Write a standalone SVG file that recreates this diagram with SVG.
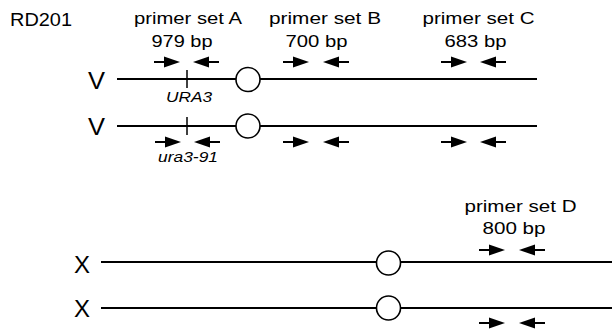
<svg xmlns="http://www.w3.org/2000/svg" xmlns:xlink="http://www.w3.org/1999/xlink" width="612" height="335" viewBox="0 0 612 335">
<style>
  text { font-family: "Liberation Sans", Arial, Helvetica, sans-serif; fill: #000; }
  .lbl { font-size: 17px; text-anchor: middle; }
  .chr { font-size: 24px; }
  .it { font-size: 15px; font-style: italic; text-anchor: middle; }
  .ln { stroke: #000; stroke-width: 1.8; fill: none; }
  .cen { stroke: #000; stroke-width: 1.6; fill: #fff; }
  .tick { stroke: #000; stroke-width: 1.5; }
</style>
<defs>
  <g id="fw"><line x1="0" y1="0" x2="11" y2="0" stroke="#000" stroke-width="2"/><polygon points="10,-5.5 26,0 10,5.5" fill="#000"/></g>
  <g id="rv"><line x1="15" y1="0" x2="26" y2="0" stroke="#000" stroke-width="2"/><polygon points="0,0 16,-5.5 16,5.5" fill="#000"/></g>
</defs>
<rect width="612" height="335" fill="#fff"/>
<text x="10" y="26" style="font-size:18px" textLength="62" lengthAdjust="spacingAndGlyphs">RD201</text>

<g id="labelA">
  <text class="lbl" x="188" y="24" textLength="108" lengthAdjust="spacingAndGlyphs">primer set A</text>
  <text class="lbl" x="182" y="47" textLength="61" lengthAdjust="spacingAndGlyphs">979 bp</text>
</g>
<g id="labelB">
  <text class="lbl" x="325" y="24" textLength="112" lengthAdjust="spacingAndGlyphs">primer set B</text>
  <text class="lbl" x="316.5" y="47" textLength="62" lengthAdjust="spacingAndGlyphs">700 bp</text>
</g>
<g id="labelC">
  <text class="lbl" x="478.5" y="24" textLength="112" lengthAdjust="spacingAndGlyphs">primer set C</text>
  <text class="lbl" x="475.5" y="47" textLength="62" lengthAdjust="spacingAndGlyphs">683 bp</text>
</g>
<g id="labelD">
  <text class="lbl" x="520.5" y="212" textLength="112" lengthAdjust="spacingAndGlyphs">primer set D</text>
  <text class="lbl" x="514" y="234" textLength="63" lengthAdjust="spacingAndGlyphs">800 bp</text>
</g>

<g id="chrV1">
  <text class="chr" x="88" y="89" textLength="17" lengthAdjust="spacingAndGlyphs">V</text>
  <line class="ln" x1="117" y1="79" x2="236" y2="79"/>
  <line class="ln" x1="260" y1="79" x2="537" y2="79"/>
  <circle class="cen" cx="248" cy="79.5" r="12"/>
  <line class="tick" x1="187" y1="70" x2="187" y2="88"/>
  <text class="it" x="189" y="102" textLength="46" lengthAdjust="spacingAndGlyphs">URA3</text>
</g>
<g id="chrV2">
  <text class="chr" x="88" y="135" textLength="17" lengthAdjust="spacingAndGlyphs">V</text>
  <line class="ln" x1="117" y1="126" x2="236" y2="126"/>
  <line class="ln" x1="260" y1="126" x2="537" y2="126"/>
  <circle class="cen" cx="248" cy="126" r="12"/>
  <line class="tick" x1="187" y1="117" x2="187" y2="135"/>
  <text class="it" x="188" y="162" textLength="60" lengthAdjust="spacingAndGlyphs">ura3-91</text>
</g>
<g id="chrX1">
  <text class="chr" x="74" y="273" textLength="16" lengthAdjust="spacingAndGlyphs">X</text>
  <line class="ln" x1="101" y1="262" x2="376" y2="262"/>
  <line class="ln" x1="401" y1="262" x2="612" y2="262"/>
  <circle class="cen" cx="388.5" cy="263" r="12"/>
</g>
<g id="chrX2">
  <text class="chr" x="74" y="317" textLength="16" lengthAdjust="spacingAndGlyphs">X</text>
  <line class="ln" x1="101" y1="308" x2="376" y2="308"/>
  <line class="ln" x1="401" y1="308" x2="612" y2="308"/>
  <circle class="cen" cx="388.5" cy="308" r="12"/>
</g>

<g id="primers">
  <use xlink:href="#fw" x="154" y="62"/><use xlink:href="#rv" x="193" y="62"/>
  <use xlink:href="#fw" x="283" y="62"/><use xlink:href="#rv" x="323" y="62"/>
  <use xlink:href="#fw" x="441" y="62"/><use xlink:href="#rv" x="480" y="62"/>
  <use xlink:href="#fw" x="155" y="142"/><use xlink:href="#rv" x="194" y="142"/>
  <use xlink:href="#fw" x="283" y="142"/><use xlink:href="#rv" x="323" y="142"/>
  <use xlink:href="#fw" x="441" y="142"/><use xlink:href="#rv" x="480" y="142"/>
  <use xlink:href="#fw" x="479" y="250"/><use xlink:href="#rv" x="519" y="250"/>
  <use xlink:href="#fw" x="479" y="323"/><use xlink:href="#rv" x="519" y="323"/>
</g>
</svg>
